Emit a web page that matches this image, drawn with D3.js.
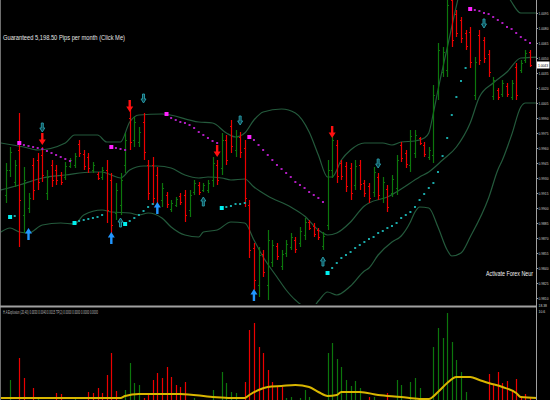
<!DOCTYPE html>
<html><head><meta charset="utf-8">
<script src="https://cdn.jsdelivr.net/npm/d3@7"></script>
<style>html,body{margin:0;padding:0;background:#000;overflow:hidden}</style>
</head><body>
<svg id="c" width="550" height="400"></svg>
<script>
// ---- OHLC bars (price) ----
const opens = [0.9913,0.9938,0.9926,0.9958,0.9893,0.9900,0.9943,0.9948,0.9953,0.9915,
0.9943,0.9938,0.9933,0.9931,0.9942,0.9943,0.9964,0.9954,0.9951,0.9938,
0.9934,0.9931,0.9938,0.9928,0.9895,0.9903,0.9943,0.9990,0.9968,0.9966,
0.9986,0.9943,0.9943,0.9933,0.9908,0.9913,0.9899,0.9903,0.9912,0.9913,
0.9898,0.9916,0.9923,0.9918,0.9918,0.9928,0.9943,0.9940,0.9968,0.9982,
0.9958,0.9971,0.9960,0.9903,0.9860,0.9823,0.9854,0.9823,0.9846,0.9862,
0.9842,0.9855,0.9861,0.9868,0.9865,0.9873,0.9886,0.9882,0.9878,0.9862,
0.9883,0.9938,0.9963,0.9945,0.9942,0.9940,0.9923,0.9943,0.9925,0.9922,
0.9916,0.9931,0.9910,0.9919,0.9915,0.9920,0.9963,0.9955,0.9943,0.9955,
0.9970,0.9963,0.9951,0.9953,1.0016,1.0036,1.0038,1.0108,1.0094,1.0088,
1.0075,1.0076,1.0013,1.0073,1.0068,1.0054,1.0012,1.0018,1.0014,1.0022,
1.0011,1.0041,1.0038,1.0048,1.0056];
const highs = [0.9945,0.9961,0.9948,0.9995,0.9941,0.9915,0.9950,0.9955,0.9961,0.9938,
0.9948,0.9943,0.9936,0.9946,0.9950,0.9955,0.9968,0.9958,0.9955,0.9946,
0.9936,0.9941,0.9948,0.9935,0.9925,0.9935,0.9975,0.9998,0.9991,0.9981,
0.9995,0.9948,0.9951,0.9941,0.9925,0.9916,0.9908,0.9911,0.9915,0.9918,
0.9918,0.9928,0.9926,0.9925,0.9928,0.9951,0.9948,0.9975,0.9973,0.9988,
0.9978,0.9976,0.9968,0.9908,0.9865,0.9861,0.9858,0.9878,0.9868,0.9865,
0.9858,0.9868,0.9875,0.9871,0.9881,0.9890,0.9888,0.9885,0.9880,0.9876,
0.9948,0.9975,0.9968,0.9948,0.9946,0.9945,0.9948,0.9948,0.9928,0.9925,
0.9941,0.9935,0.9931,0.9923,0.9933,0.9953,0.9966,0.9958,0.9978,0.9978,
0.9971,0.9966,0.9961,1.0023,1.0065,1.0061,1.0118,1.0118,1.0098,1.0091,
1.0078,1.0081,1.0051,1.0078,1.0071,1.0058,1.0031,1.0020,1.0028,1.0025,
1.0028,1.0045,1.0048,1.0058,1.0058];
const lows = [0.9905,0.9931,0.9921,0.9861,0.9875,0.9895,0.9908,0.9918,0.9926,0.9908,
0.9921,0.9923,0.9923,0.9928,0.9940,0.9940,0.9951,0.9938,0.9935,0.9935,
0.9928,0.9928,0.9885,0.9875,0.9888,0.9893,0.9935,0.9958,0.9961,0.9961,
0.9948,0.9908,0.9903,0.9895,0.9901,0.9900,0.9896,0.9901,0.9903,0.9886,
0.9891,0.9913,0.9913,0.9916,0.9915,0.9921,0.9923,0.9933,0.9943,0.9955,
0.9951,0.9950,0.9901,0.9850,0.9818,0.9811,0.9831,0.9808,0.9841,0.9848,
0.9838,0.9851,0.9858,0.9855,0.9861,0.9868,0.9878,0.9871,0.9868,0.9858,
0.9878,0.9930,0.9925,0.9928,0.9916,0.9908,0.9918,0.9918,0.9911,0.9905,
0.9911,0.9908,0.9905,0.9896,0.9911,0.9913,0.9946,0.9940,0.9936,0.9950,
0.9963,0.9951,0.9948,0.9945,1.0008,1.0031,1.0031,1.0061,1.0071,1.0065,
1.0058,1.0040,1.0008,1.0043,1.0045,1.0031,1.0008,1.0008,1.0011,1.0011,
1.0008,1.0008,1.0035,1.0045,1.0041];
const closes = [0.9938,0.9956,0.9943,0.9908,0.9928,0.9910,0.9918,0.9926,0.9933,0.9931,
0.9928,0.9928,0.9926,0.9942,0.9948,0.9952,0.9955,0.9942,0.9940,0.9943,
0.9930,0.9938,0.9898,0.9883,0.9918,0.9928,0.9968,0.9966,0.9986,0.9976,
0.9956,0.9915,0.9910,0.9903,0.9920,0.9904,0.9905,0.9909,0.9906,0.9893,
0.9913,0.9925,0.9916,0.9923,0.9925,0.9945,0.9928,0.9968,0.9948,0.9962,
0.9972,0.9956,0.9910,0.9858,0.9828,0.9853,0.9836,0.9868,0.9863,0.9852,
0.9854,0.9864,0.9871,0.9859,0.9877,0.9886,0.9880,0.9874,0.9871,0.9872,
0.9938,0.9968,0.9932,0.9932,0.9922,0.9915,0.9942,0.9924,0.9915,0.9910,
0.9936,0.9913,0.9926,0.9901,0.9929,0.9948,0.9950,0.9944,0.9972,0.9973,
0.9965,0.9954,0.9958,1.0013,1.0058,1.0056,1.0103,1.0068,1.0075,1.0070,
1.0062,1.0046,1.0046,1.0048,1.0050,1.0036,1.0028,1.0011,1.0025,1.0014,
1.0025,1.0013,1.0045,1.0055,1.0043];

// ---- Bands (key bars / price) ----
const upperIdx = [-1,4,7,13,15,20,22,25,27,29,34,42,45,48,50,52,54,56,60,63,66,68,70,71,73,75,78,82,84,86,89,91,92,93,94,96,98,100,104,108,110,112,116];
const upperVal = [0.9965,0.9961,0.9958,0.9965,0.9973,0.9973,0.9966,0.9966,0.9986,0.9993,0.9994,0.9986,0.9985,0.9975,0.9971,0.9975,0.9988,0.9996,0.9999,0.9995,0.9976,0.9953,0.9931,0.9931,0.9948,0.9958,0.9965,0.9965,0.9963,0.9966,0.9967,0.9970,0.9975,0.9995,1.0018,1.0060,1.0102,1.0138,1.0148,1.0123,1.0106,1.0095,1.0095];
const middleIdx = [-1,3,8,13,19,21,23,25,27,30,33,36,39,42,44,47,49,52,54,57,62,65,68,70,72,75,78,79,83,86,90,92,95,98,101,103,106,109,112,116];
const middleVal = [0.9918,0.9923,0.9930,0.9933,0.9936,0.9936,0.9933,0.9930,0.9938,0.9942,0.9942,0.9940,0.9933,0.9930,0.9931,0.9930,0.9928,0.9929,0.9921,0.9912,0.9901,0.9892,0.9878,0.9873,0.9875,0.9886,0.9902,0.9905,0.9911,0.9919,0.9931,0.9936,0.9948,0.9961,0.9985,1.0011,1.0025,1.0036,1.0050,1.0051];
const lowerIdx = [-1,1,3,5,8,12,15,17,21,23,27,29,31,34,36,39,42,43,46,49,52,54,56,59,61,63,65,67,68,70,72,75,78,79,81,84,86,88,89,90,92,94,96,97,99,101,105,107,108,110,112,113,116];
const lowerVal = [0.9876,0.9880,0.9876,0.9875,0.9883,0.9885,0.9884,0.9893,0.9898,0.9896,0.9895,0.9893,0.9895,0.9890,0.9881,0.9873,0.9871,0.9876,0.9878,0.9886,0.9885,0.9868,0.9851,0.9831,0.9818,0.9808,0.9802,0.9802,0.9807,0.9816,0.9813,0.9822,0.9837,0.9840,0.9853,0.9866,0.9872,0.9886,0.9896,0.9901,0.9900,0.9881,0.9858,0.9852,0.9855,0.9871,0.9910,0.9938,0.9948,0.9973,1.0001,1.0005,1.0005];

// ---- SAR-style dots ----
const cyanIdx = [1,2, 15,16,17,18,19,20,21, 26,27,28,29,30,31,32, 47,48,49,50,51,52,
 70,71,72,73,74,75,76,77,78,79,80,81,82,83,84,85,86,87,88,89,90,91,92,93,94,95,96,97,98,99,100];
const cyanVal = [0.9891,0.9892, 0.9885,0.9887,0.9888,0.9889,0.9890,0.9891,0.9893,
 0.9884,0.9887,0.9890,0.9893,0.9897,0.9901,0.9904, 0.9900,0.9901,0.9902,0.9904,0.9904,0.9905,
 0.9835,0.9840,0.9845,0.9850,0.9853,0.9856,0.9860,0.9863,0.9866,0.9869,0.9871,0.9875,0.9877,0.9880,0.9882,0.9885,0.9890,0.9893,0.9896,0.9901,0.9908,0.9914,0.9920,0.9925,0.9936,0.9952,0.9970,0.9993,1.0011,1.0027,1.0040];
const magIdx = [3,4,5,6,7,8,9,10,11,12,13,14, 23,24,25,26, 35,36,37,38,39,40,41,42,43,44,45,46,
 53,54,55,56,57,58,59,60,61,62,63,64,65,66,67,68,69, 101,102,103,104,105,106,107,108,109,110,111,112,113,114];
const magVal = [0.9965,0.9963,0.9962,0.9961,0.9960,0.9959,0.9957,0.9955,0.9953,0.9951,0.9949,0.9947,
 0.9961,0.9960,0.9959,0.9958,
 0.9994,0.9990,0.9988,0.9986,0.9985,0.9983,0.9980,0.9976,0.9973,0.9970,0.9967,0.9965,
 0.9971,0.9968,0.9963,0.9958,0.9953,0.9948,0.9943,0.9939,0.9935,0.9931,0.9926,0.9923,0.9920,0.9916,0.9913,0.9910,0.9906,
 1.0099,1.0098,1.0097,1.0095,1.0094,1.0091,1.0088,1.0085,1.0081,1.0079,1.0075,1.0071,1.0068,1.0065];

// ---- Arrow signals ----
const sellIdx = [8,27,46,71], sellVal = [0.9963,0.9996,0.9951,0.9970];
const buyIdx = [5,23,33,54], buyVal = [0.9880,0.9876,0.9906,0.9819];
const altSellIdx = [8,30,51,81,104], altSellVal = [0.9976,1.0005,0.9983,0.9940,1.0080];
const altBuyIdx = [25,43,69], altBuyVal = [0.9890,0.9911,0.9851];

// ---- Indicator window ----
const histBull = [0,20,0,0,0,0,0,3,0,0, 0,0,0,0,0,3,0,0,0,0, 0,0,0,0,0,0,10,37,17,15,
 0,0,0,0,0,0,0,0,0,0, 0,2,0,0,0,10,0,28,17,8, 7,0,0,0,0,0,0,0,0,0,
 0,2,3,0,2,10,3,0,0,0, 47,57,41,33,20,14,19,12,0,0, 3,0,0,0,0,20,15,0,18,22,
 12,0,0,53,72,62,87,58,40,28, 8,0,0,0,0,0,0,0,0,0, 0,0,0,0,0];
const histBear = [0,0,0,42,22,0,12,0,0,0, 0,7,6,0,0,0,0,0,8,7, 12,7,25,47,9,0,0,0,0,0,
 2,5,20,27,22,33,23,15,13,18, 0,0,0,0,0,0,0,0,0,0, 0,0,18,70,77,53,47,30,18,14,
 13,0,0,0,0,0,0,0,0,0, 0,0,0,0,0,0,0,0,0,3, 0,0,0,7,0,0,0,0,0,0,
 0,0,0,0,0,0,0,0,0,0, 0,0,0,0,0,26,15,28,17,19, 10,21,4,6,3];
const sigIdx = [-1,8,25,26,29,38,45,49,52,53,55,57,60,63,66,68,70,72,73,77,81,86,90,92,94,96,98,101,103,105,108,111,112,116];
const sigVal = [2,2,2,4,6,6,3,2,2,5,10,13,14,15,13,8,4,5,8,8,5,3,1,1,8,17,23,23,20,17,13,7,3,2];

// ---- Tick labels ----
const priceTicks = [1.0095,1.0080,1.0065,1.0050,1.0035,1.0020,1.0005,0.9990,0.9975,0.9960,0.9945,0.9930,0.9915,0.9900,0.9885,0.9870,0.9855,0.9840,0.9825,0.9810];
const indTickLabels = ["18.38","10.6"];
const headline = "Guaranteed 5,198.50 Pips per month (Click Me)";
const promo = "Activate Forex Neur";
const indLabel = "H.A Explosion (20,40) 0.0030 0.0040 0.0015 TP(2) 0.0000 0.0000 0.0000 0.0000";

// ===== drawing =====
const W = 550, H = 400, axisX = 537;
const FONT = '"Liberation Sans", Arial, sans-serif';
const svg = d3.select('#c');
svg.append('rect').attr('width', W).attr('height', H).attr('fill', '#000');
const defs = svg.append('defs');
defs.append('clipPath').attr('id','cm').append('rect').attr('x',1).attr('y',0).attr('width',axisX-1.5).attr('height',304);
defs.append('clipPath').attr('id','cl').append('rect').attr('x',1).attr('y',308).attr('width',axisX-1.5).attr('height',92);

const x = d3.scaleLinear().domain([0,114]).range([5.5,530]);
const y = d3.scaleLinear().domain([0.9803,1.0108]).range([305,0]);
const yh = d3.scaleLinear().domain([0,92]).range([400,308]);
const px = i => Math.round(x(i)) + 0.5;

const main = svg.append('g').attr('clip-path','url(#cm)');

// bands
const bandLine = d3.line().x(d=>x(d[0])).y(d=>y(d[1])).curve(d3.curveMonotoneX);
[[upperIdx,upperVal],[middleIdx,middleVal],[lowerIdx,lowerVal]].forEach(([ix,vs])=>{
  main.append('path').attr('d', bandLine(ix.map((v,k)=>[v,vs[k]])))
    .attr('fill','none').attr('stroke','#245a3c').attr('stroke-width',1.2);
});

// bars
const idx = d3.range(opens.length);
const GREEN = '#0c760c', RED = '#ec0000';
const bars = main.append('g');
idx.forEach(i=>{
  const c = closes[i] >= opens[i] ? GREEN : RED;
  const xx = px(i);
  bars.append('line').attr('x1',xx).attr('x2',xx).attr('y1',y(highs[i])).attr('y2',y(lows[i])).attr('stroke',c).attr('stroke-width',1.2);
  bars.append('line').attr('x1',xx-1.5).attr('x2',xx).attr('y1',Math.round(y(opens[i]))+0.5).attr('y2',Math.round(y(opens[i]))+0.5).attr('stroke',c).attr('stroke-width',1);
  bars.append('line').attr('x1',xx).attr('x2',xx+1.5).attr('y1',Math.round(y(closes[i]))+0.5).attr('y2',Math.round(y(closes[i]))+0.5).attr('stroke',c).attr('stroke-width',1);
});

// dots
function dots(ix, vs, bigCol, smallCol){
  ix.forEach((b,k)=>{
    const start = ix.indexOf(b-1) < 0;
    const s = start ? 4 : 2;
    main.append('rect').attr('x', x(b)-s/2).attr('y', y(vs[k])-s/2).attr('width',s).attr('height',s)
      .attr('fill', start ? bigCol : smallCol);
  });
}
dots(cyanIdx, cyanVal, '#00f0f0', '#1aa8a8');
dots(magIdx, magVal, '#ff22ff', '#b01cc0');

// arrows
const downArrow = (w,h,sw) => `M0,0 L${-w/2},${-h*0.45} L${-sw/2},${-h*0.45} L${-sw/2},${-h} L${sw/2},${-h} L${sw/2},${-h*0.45} L${w/2},${-h*0.45} Z`;
const upArrow = (w,h,sw) => `M0,0 L${-w/2},${h*0.45} L${-sw/2},${h*0.45} L${-sw/2},${h} L${sw/2},${h} L${sw/2},${h*0.45} L${w/2},${h*0.45} Z`;
sellIdx.forEach((b,k)=> main.append('path').attr('d',downArrow(7,12,2.4)).attr('transform',`translate(${x(b)},${y(sellVal[k])})`).attr('fill','#ff1010'));
buyIdx.forEach((b,k)=> main.append('path').attr('d',upArrow(7,12,2.4)).attr('transform',`translate(${x(b)},${y(buyVal[k])})`).attr('fill','#2196ff'));
altSellIdx.forEach((b,k)=> main.append('path').attr('d',downArrow(5,9,2)).attr('transform',`translate(${x(b)},${y(altSellVal[k])})`).attr('fill','#0d4a52').attr('stroke','#2aa0ae').attr('stroke-width',0.9));
altBuyIdx.forEach((b,k)=> main.append('path').attr('d',upArrow(5,9,2)).attr('transform',`translate(${x(b)},${y(altBuyVal[k])})`).attr('fill','#0d4a52').attr('stroke','#2aa0ae').attr('stroke-width',0.9));

// texts in main window
svg.append('text').attr('x',3).attr('y',39.5).text(headline)
  .attr('font-family',FONT).attr('font-size',7.5)
  .attr('fill','#e4e4e4').attr('textLength',122).attr('lengthAdjust','spacingAndGlyphs');
svg.append('text').attr('transform','translate(486,276) scale(1,1.2)').text(promo)
  .attr('font-family','"Liberation Sans Narrow", "Liberation Sans", Arial, sans-serif').attr('font-size',6.4)
  .attr('fill','#f2f2f2').attr('textLength',47).attr('lengthAdjust','spacingAndGlyphs');

// indicator window
const low = svg.append('g').attr('clip-path','url(#cl)');
idx.forEach(i=>{
  if (histBull[i] > 0) low.append('line').attr('x1',px(i)).attr('x2',px(i)).attr('y1',yh(0)).attr('y2',yh(histBull[i])).attr('stroke',GREEN).attr('stroke-width',1.2);
  if (histBear[i] > 0) low.append('line').attr('x1',px(i)).attr('x2',px(i)).attr('y1',yh(0)).attr('y2',yh(histBear[i])).attr('stroke',RED).attr('stroke-width',1.2);
});
const sigLine = d3.line().x(d=>x(d[0])).y(d=>yh(d[1])).curve(d3.curveMonotoneX);
low.append('path').attr('d', sigLine(sigIdx.map((v,k)=>[v,sigVal[k]])))
  .attr('fill','none').attr('stroke','#d9b600').attr('stroke-width',2);
svg.append('text').attr('x',3).attr('y',314).text(indLabel)
  .attr('font-family',FONT).attr('font-size',4.5)
  .attr('fill','#b8b8b8').attr('textLength',95).attr('lengthAdjust','spacingAndGlyphs');

// frame
svg.append('line').attr('x1',0.5).attr('x2',0.5).attr('y1',0).attr('y2',H).attr('stroke','#6e6e6e');
svg.append('line').attr('x1',0).attr('x2',axisX).attr('y1',306.5).attr('y2',306.5).attr('stroke','#a0a0a0').attr('stroke-width',2);
svg.append('line').attr('x1',axisX-0.5).attr('x2',axisX-0.5).attr('y1',0).attr('y2',H).attr('stroke','#a0a0a0');

// price axis
const ax = svg.append('g').attr('transform',`translate(${axisX-0.5},0)`)
  .call(d3.axisRight(y).tickValues(priceTicks).tickFormat(d3.format('.4f')).tickSize(1.5).tickPadding(0.5));
ax.select('.domain').remove();
ax.selectAll('line').attr('stroke','#a0a0a0');
ax.selectAll('text').attr('fill','#cfcfcf').attr('font-size',3.8).attr('font-family',FONT)
  .attr('textLength',10).attr('lengthAdjust','spacingAndGlyphs');

// current price tag
const last = closes[closes.length-1];
svg.append('rect').attr('x',axisX).attr('y',y(last)-3.5).attr('width',12.5).attr('height',7).attr('fill','#fff');
svg.append('text').attr('x',axisX+1).attr('y',y(last)+1.5).text(d3.format('.4f')(last))
  .attr('font-size',3.8).attr('font-family',FONT).attr('fill','#000')
  .attr('textLength',10).attr('lengthAdjust','spacingAndGlyphs');

// indicator window scale labels
indTickLabels.forEach((t,k)=> svg.append('text').attr('x',axisX+1.5).attr('y',307+k*6).text(t)
  .attr('font-size',3.8).attr('font-family',FONT).attr('fill','#cfcfcf')
  .attr('textLength',t.length*1.7).attr('lengthAdjust','spacingAndGlyphs'));
</script>
</body></html>
